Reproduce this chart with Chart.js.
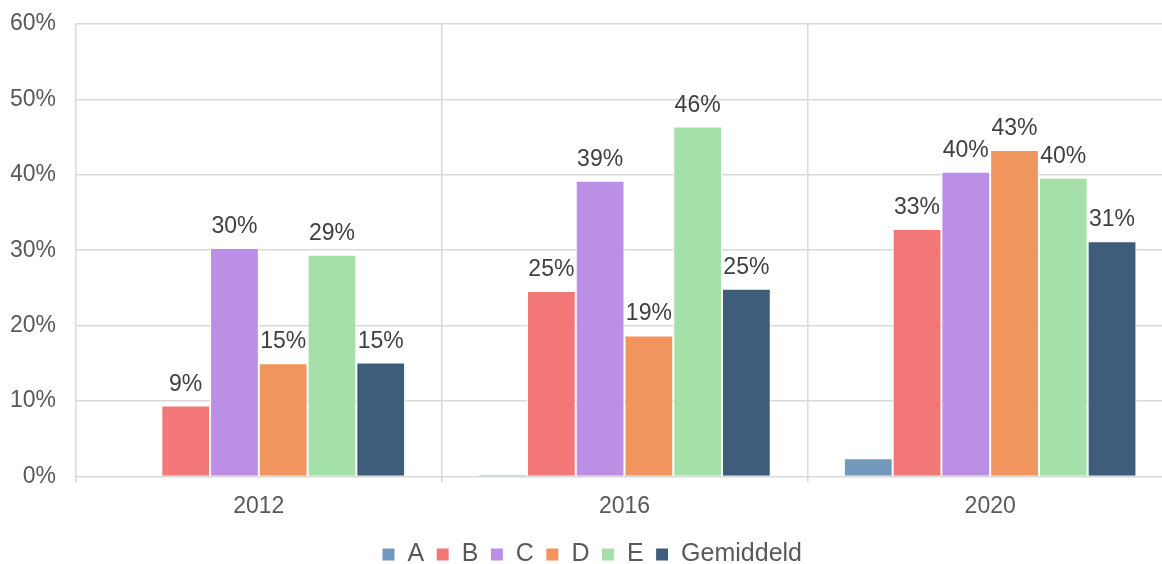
<!DOCTYPE html>
<html>
<head>
<meta charset="utf-8">
<script src="https://cdn.jsdelivr.net/npm/chart.js@4/dist/chart.umd.min.js"></script>
<style>
html, body { margin: 0; padding: 0; overflow: hidden; background: #fff; }
</style>
</head>
<body>
<canvas id="graph" width="1173" height="564"></canvas>
<script>
var years = ['2012', '2016', '2020'];
var valuesA = [0, 0.2, 2.4];
var valuesB = [9.4, 24.6, 32.8];
var valuesC = [30.3, 39.2, 40.4];
var valuesD = [15.0, 18.7, 43.3];
var valuesE = [29.4, 46.4, 39.6];
var valuesGem = [15.1, 24.9, 31.2];
var yTicks = [0, 10, 20, 30, 40, 50, 60];

var font = 'Liberation Sans, Arial, sans-serif';

function bars(label, data, color) {
  return {
    label: label,
    data: data,
    backgroundColor: color,
    borderColor: '#ffffff',
    borderWidth: 1
  };
}

// draw the % labels on top of the bars (not for series A)
var valueLabels = {
  id: 'valueLabels',
  afterDatasetsDraw: function (chart) {
    var ctx = chart.ctx;
    ctx.save();
    ctx.font = '23px ' + font;
    ctx.fillStyle = '#404040';
    ctx.textAlign = 'center';
    ctx.textBaseline = 'alphabetic';
    chart.data.datasets.forEach(function (ds, i) {
      if (i === 0) return;
      chart.getDatasetMeta(i).data.forEach(function (bar, j) {
        ctx.fillText(Math.round(ds.data[j]) + '%', bar.x, bar.y - 15);
      });
    });
    ctx.restore();
  }
};

var ctx = document.getElementById('graph').getContext('2d');
var chart = new Chart(ctx, {
  type: 'bar',
  data: {
    labels: years,
    datasets: [
      bars('A', valuesA, '#7299BD'),
      bars('B', valuesB, '#F47777'),
      bars('C', valuesC, '#BB8FE6'),
      bars('D', valuesD, '#F0955D'),
      bars('E', valuesE, '#A5E0A9'),
      bars('Gemiddeld', valuesGem, '#3D5D7A')
    ]
  },
  options: {
    responsive: false,
    animation: false,
    categoryPercentage: 0.8,
    barPercentage: 1.0,
    layout: { padding: { left: 11, top: 24, right: 0, bottom: -13 } },
    scales: {
      x: {
        grid: { color: '#d9d9d9', lineWidth: 1.5, tickLength: 6, offset: true },
        border: { display: false },
        ticks: { color: '#595959', font: { family: font, size: 23 }, padding: 10 }
      },
      y: {
        min: 0,
        max: 60,
        afterBuildTicks: function (axis) {
          axis.ticks = yTicks.map(function (v) { return { value: v }; });
        },
        afterFit: function (axis) {
          axis.width = 65;
          axis.paddingTop = 0;
          axis.paddingBottom = 0;
        },
        grid: { color: '#d9d9d9', lineWidth: 1.5, drawTicks: false },
        border: { display: false },
        ticks: {
          color: '#595959',
          font: { family: font, size: 23 },
          padding: 20,
          callback: function (v) { return v + '%'; }
        }
      }
    },
    plugins: {
      legend: {
        position: 'bottom',
        labels: {
          boxWidth: 13,
          boxHeight: 13,
          padding: 12,
          color: '#595959',
          font: { family: font, size: 25 }
        }
      },
      tooltip: { enabled: false }
    }
  },
  plugins: [valueLabels]
});
</script>
</body>
</html>
